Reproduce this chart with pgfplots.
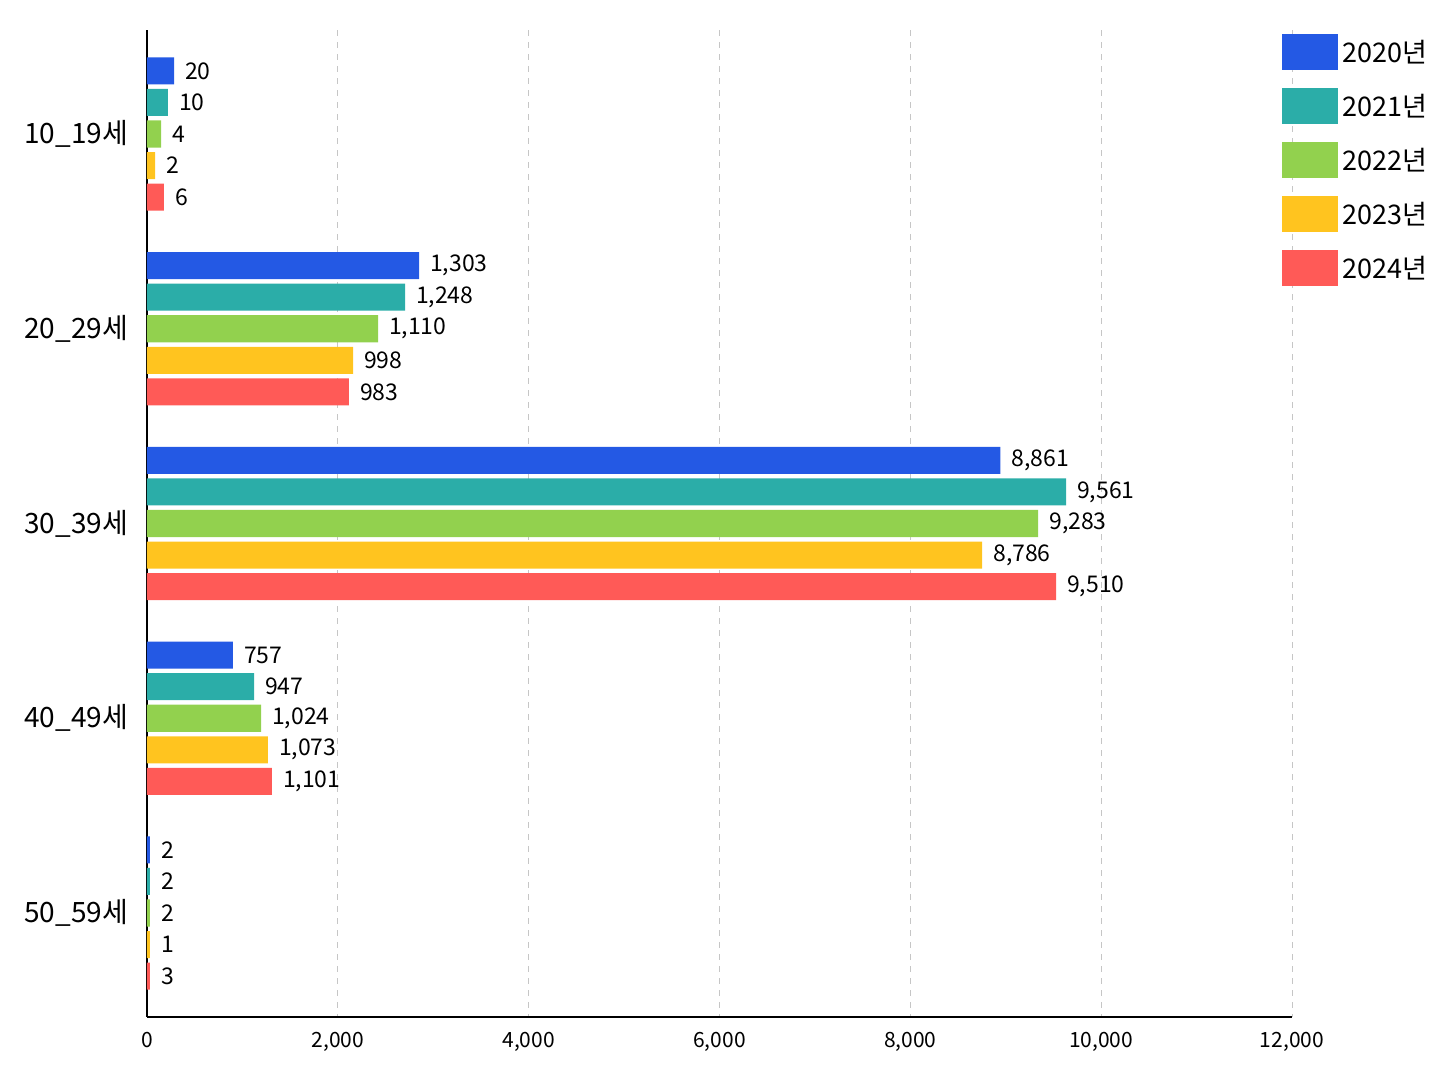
\documentclass[border=0pt]{standalone}
\usepackage{pgfplots}
\pgfplotsset{compat=1.18}
\usepackage{fontspec}
\setmainfont{Noto Sans CJK KR}
\definecolor{c1}{HTML}{2459E4}
\definecolor{c2}{HTML}{2BADA8}
\definecolor{c3}{HTML}{92D14E}
\definecolor{c4}{HTML}{FFC41F}
\definecolor{c5}{HTML}{FF5A57}
\begin{document}
\begin{tikzpicture}
\begin{axis}[
  scale only axis, width=572.5pt, height=493.5pt,
  xbar, bar width=0.139, y dir=reverse,
  xmin=0, xmax=12000, ymin=-0.534, ymax=4.534,
  xtick={0,2000,...,12000}, scaled x ticks=false,
  xticklabel={\pgfmathprintnumber[fixed,1000 sep={,},assume math mode=true]{\tick}},
  ytick={0,1,2,3,4},
  yticklabels={10\_19세,20\_29세,30\_39세,40\_49세,50\_59세},
  yticklabel style={font=\fontsize{14}{16}\selectfont, xshift=-6pt},
  xticklabel style={font=\fontsize{10.5}{12}\selectfont, yshift=-4pt},
  major tick length=0pt,
  axis x line*=bottom, axis y line*=left,
  axis line style={black, line width=1pt, -},
  xmajorgrids, grid style={dashed, gray!45},
  point meta=explicit symbolic,
  nodes near coords={\pgfplotspointmeta},
  nodes near coords style={font=\fontsize{11.5}{13}\selectfont, anchor=west, xshift=2pt},
  legend style={at={(0.986,1)}, anchor=north west, draw=none, fill=none,
    font=\fontsize{13.5}{15}\selectfont, row sep=9pt},
  legend cell align=left,
  legend image code/.code={\fill[#1] (0pt,-9pt) rectangle (28pt,9pt);},
]
\addplot[fill=c1, draw=none, bar shift=-0.324] coordinates {(283,0)[20] (2851,1)[1,303] (8943,2)[8,861] (901,3)[757] (31,4)[2]};
\addplot[fill=c2, draw=none, bar shift=-0.162] coordinates {(220,0)[10] (2704,1)[1,248] (9633,2)[9,561] (1122,3)[947] (31,4)[2]};
\addplot[fill=c3, draw=none, bar shift=0] coordinates {(147,0)[4] (2421,1)[1,110] (9340,2)[9,283] (1195,3)[1,024] (31,4)[2]};
\addplot[fill=c4, draw=none, bar shift=0.162] coordinates {(84,0)[2] (2159,1)[998] (8753,2)[8,786] (1268,3)[1,073] (31,4)[1]};
\addplot[fill=c5, draw=none, bar shift=0.324] coordinates {(178,0)[6] (2117,1)[983] (9528,2)[9,510] (1310,3)[1,101] (31,4)[3]};
\legend{2020년,2021년,2022년,2023년,2024년}
\end{axis}
\path (current axis.south west) ++(-73.5pt,-34.5pt) rectangle ++(724pt,543pt);
\end{tikzpicture}
\end{document}
